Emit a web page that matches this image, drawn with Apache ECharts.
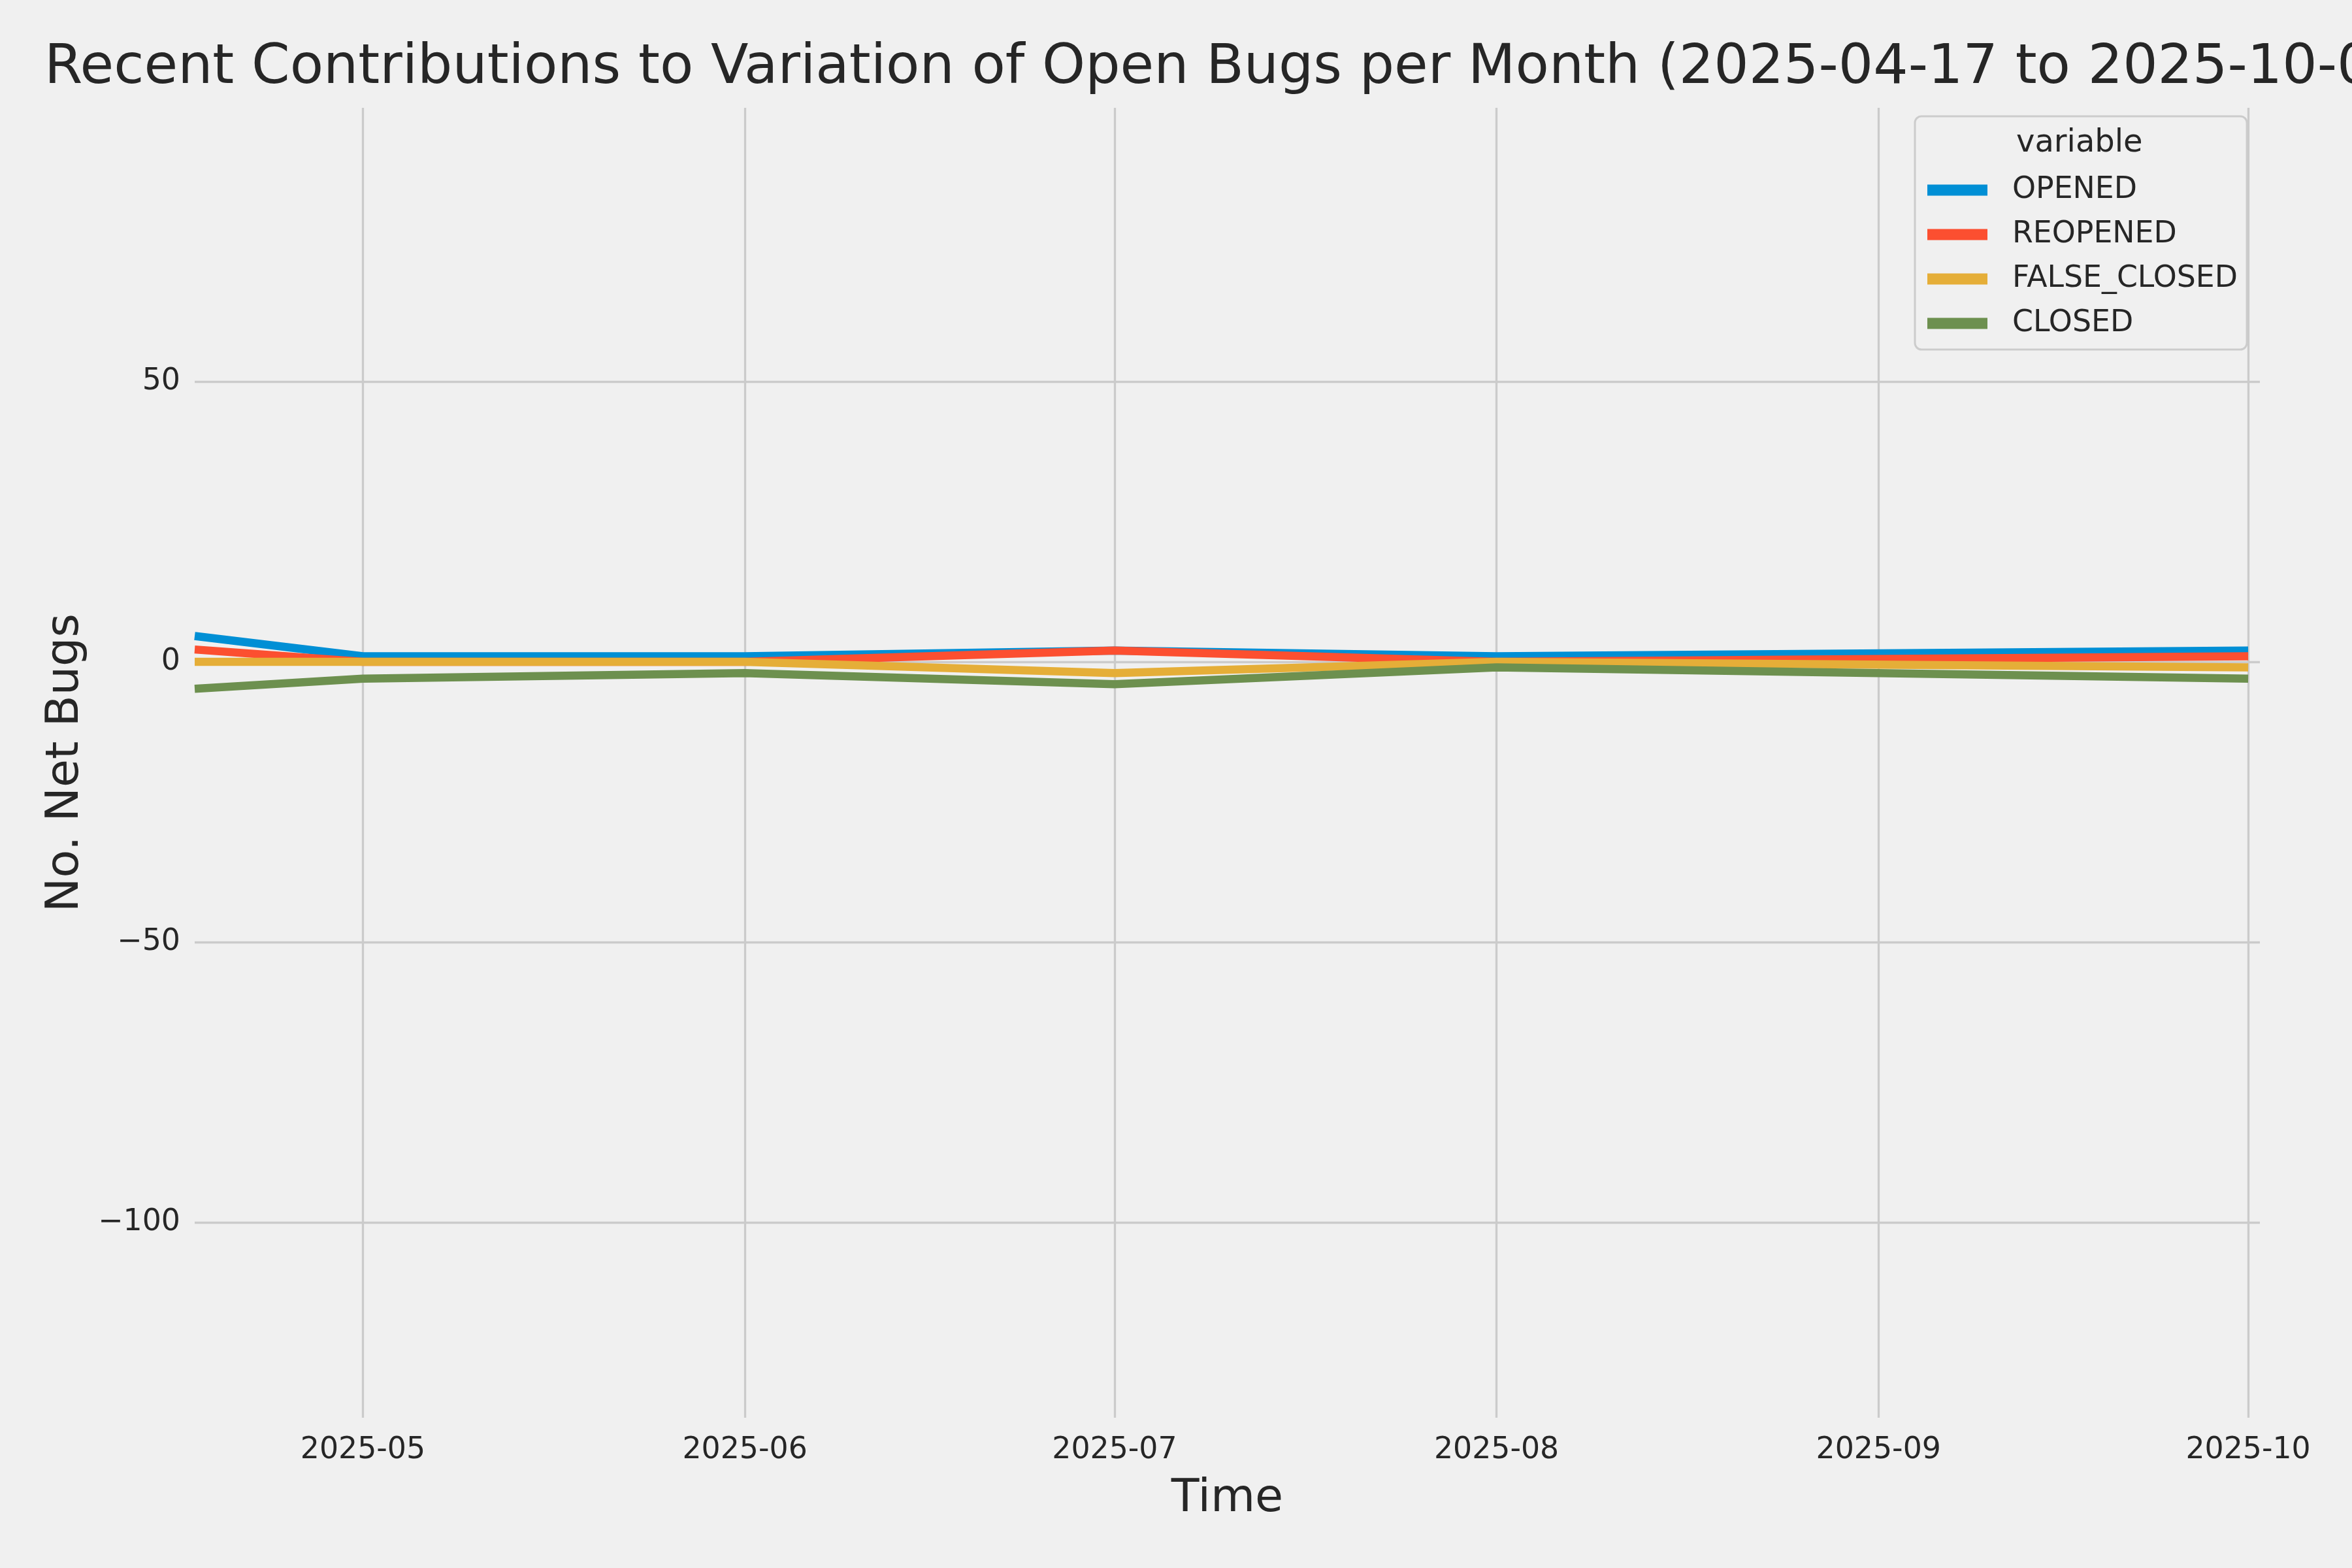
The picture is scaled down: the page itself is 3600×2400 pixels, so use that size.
<!DOCTYPE html>
<html>
<head>
<meta charset="utf-8">
<script src="https://cdn.jsdelivr.net/npm/echarts@6/dist/echarts.min.js"></script>
<style>
html,body{margin:0;padding:0;background:#f0f0f0;}
#chart{width:3600px;height:2400px;}
</style>
</head>
<body>
<div id="chart"></div>
<script>
// ---- data ----
const dates = ['2025-04-17 08:24', '2025-05-01 00:00', '2025-06-01 00:00', '2025-07-01 00:00', '2025-08-01 00:00', '2025-10-01 00:00'];
const opened = [4.6, 1, 1, 2, 1, 2];
const reopened = [2.2, 0, 0, 2, 0, 1];
const falseClosed = [0, 0, 0, -2, 0, -1];
const closed = [-4.8, -3, -2, -4, -1, -3];
const seriesNames = ['OPENED', 'REOPENED', 'FALSE_CLOSED', 'CLOSED'];
const xTickLabels = ['2025-05', '2025-06', '2025-07', '2025-08', '2025-09', '2025-10'];
const yTicks = [-100, -50, 0, 50];
const xMin = '2025-04-17 08:24';
const xMax = '2025-10-01 22:50';
const yMin = -134.8, yMax = 98.8;

const colors = ['#008fd5', '#fc4f30', '#e5ae38', '#6d904f'];
const FONT = 'DejaVu Sans';
const TXT = '#262626';

function parseLocal(s) {
  const m = s.match(/(\d+)-(\d+)-(\d+)(?:\s+(\d+):(\d+))?/);
  return new Date(+m[1], +m[2] - 1, +m[3], m[4] ? +m[4] : 0, m[5] ? +m[5] : 0).getTime();
}
function monthTs(s) {
  const p = s.split('-');
  return new Date(+p[0], +p[1] - 1, 1).getTime();
}
const xTickValues = xTickLabels.map(monthTs);
const allSeries = [opened, reopened, falseClosed, closed];

const chart = echarts.init(document.getElementById('chart'), null, {renderer: 'canvas'});
const option = {
  backgroundColor: '#f0f0f0',
  animation: false,
  title: {
    text: 'Recent Contributions to Variation of Open Bugs per Month (2025-04-17 to 2025-10-02)',
    left: 68, top: 63,
    padding: 0,
    textStyle: {fontFamily: FONT, fontSize: 84, fontWeight: 'normal', color: TXT}
  },
  grid: {left: 298, right: 141, top: 165, bottom: 230, containLabel: false},
  legend: {
    orient: 'vertical',
    left: 2931, top: 178,
    padding: [88, 14, 15, 19],
    itemWidth: 92, itemHeight: 17, itemGap: 18,
    icon: 'rect',
    backgroundColor: '#f0f0f0',
    borderColor: '#cccccc', borderWidth: 3, borderRadius: 10,
    textStyle: {fontFamily: FONT, fontSize: 45.8, color: TXT, lineHeight: 50, padding: [0, 0, 0, 33]},
    data: seriesNames
  },
  graphic: [{
    type: 'text', left: 3186 - 100, top: 226 - 30, z: 100,
    style: {text: 'variable', fontFamily: FONT, fontSize: 48, fill: TXT, width: 200, align: 'center', verticalAlign: 'top'}
  }],
  xAxis: {
    type: 'value',
    min: parseLocal(xMin), max: parseLocal(xMax),
    name: 'Time', nameLocation: 'middle', nameGap: 90,
    nameTextStyle: {fontFamily: FONT, fontSize: 70, color: TXT, verticalAlign: 'top'},
    axisLine: {show: false},
    axisTick: {show: false, customValues: xTickValues},
    axisLabel: {
      customValues: xTickValues,
      fontFamily: FONT, fontSize: 45.8, color: TXT, margin: 27,
      formatter: function (v) {
        const d = new Date(v);
        return d.getFullYear() + '-' + String(d.getMonth() + 1).padStart(2, '0');
      }
    },
    splitLine: {show: true, lineStyle: {color: '#cbcbcb', width: 3.3}}
  },
  yAxis: {
    type: 'value',
    min: yMin, max: yMax,
    name: 'No. Net Bugs', nameLocation: 'middle', nameGap: 162, nameRotate: 90,
    nameTextStyle: {fontFamily: FONT, fontSize: 70, color: TXT, verticalAlign: 'bottom'},
    axisLine: {show: false},
    axisTick: {show: false, customValues: yTicks},
    axisLabel: {
      customValues: yTicks,
      fontFamily: FONT, fontSize: 45.8, color: TXT, margin: 22,
      formatter: function (v) { return v < 0 ? '\u2212' + Math.abs(v) : String(v); }
    },
    splitLine: {show: true, lineStyle: {color: '#cbcbcb', width: 3.3}}
  },
  series: seriesNames.map(function (name, i) {
    return {
      name: name,
      type: 'line',
      data: dates.map(function (d, j) { return [parseLocal(d), allSeries[i][j]]; }),
      symbol: 'none',
      showSymbol: false,
      clip: true,
      color: colors[i],
      lineStyle: {width: 12.5, color: colors[i], join: 'round', cap: 'butt'},
      itemStyle: {color: colors[i]},
      z: 2
    };
  })
};
chart.setOption(option);
</script>
</body>
</html>
